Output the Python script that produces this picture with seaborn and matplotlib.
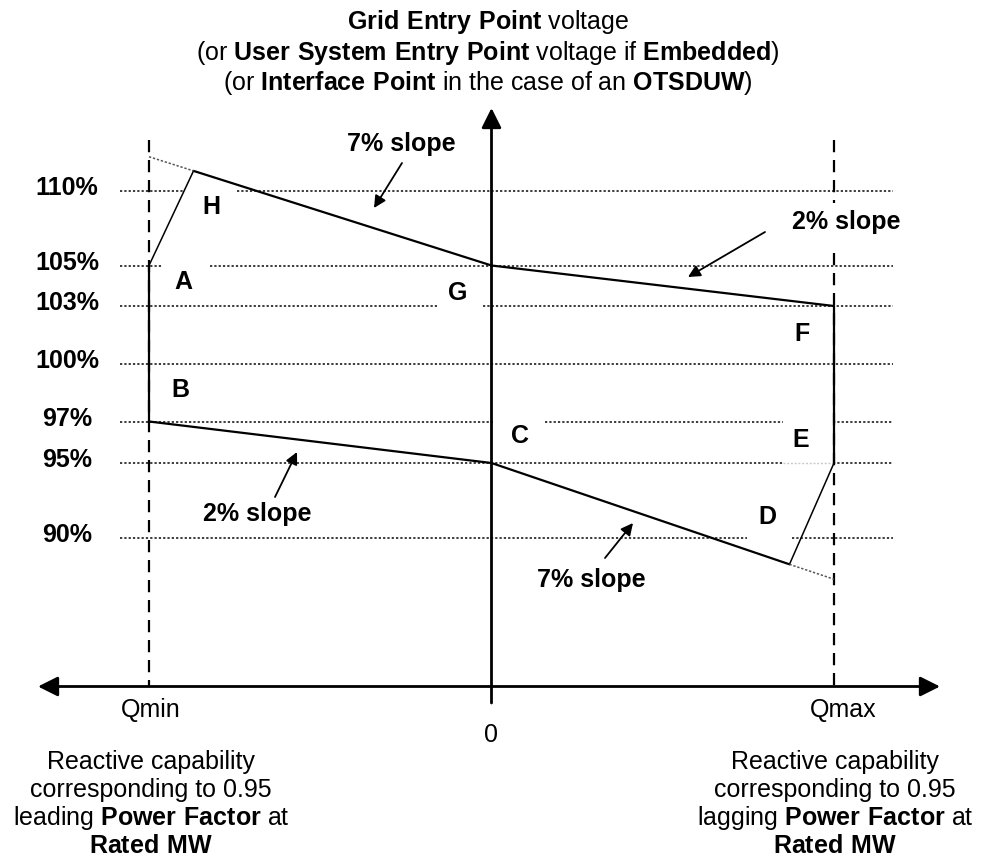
import numpy as np
import pandas as pd
import matplotlib.pyplot as plt
import seaborn as sns

W, H = 982, 861

# voltage levels marked on the diagram (%)
levels = [110, 105, 103, 100, 97, 95, 90]
level_labels = ["110%", "105%", "103%", "100%", "97%", "95%", "90%"]

# envelope corners: Q in per unit of Qmax, voltage in %
corner_names = ["A", "H", "G", "F", "E", "D", "C", "B"]
corner_q = [-1.0, -0.87, 0.0, 1.0, 1.0, 0.87, 0.0, -1.0]
corner_v = [105.0, 111.35, 105.0, 103.0, 95.0, 88.2, 95.0, 97.0]

# the two 7% slope lines continued out to Qmin / Qmax
slope_end_q = [-1.0, 1.0]
slope_end_v = [112.3, 87.2]

slope_texts = ["7% slope", "2% slope", "2% slope", "7% slope"]

# diagram is not to scale: drawn height (px from top) of each level
level_px = [191, 265.5, 306, 364, 421.5, 463, 537.5]
px_per_pct = 14.9

sns.set_theme(style="white")
plt.rcParams["font.family"] = ["Liberation Sans", "DejaVu Sans"]
plt.rcParams["text.color"] = "black"
plt.rcParams["mathtext.fontset"] = "custom"
plt.rcParams["mathtext.rm"] = "Liberation Sans"
plt.rcParams["mathtext.bf"] = "Liberation Sans:bold"

v_anchor = [0] + levels[::-1] + [200]
p_anchor = ([-(level_px[-1] + 90 * px_per_pct)] + [-p for p in level_px[::-1]]
            + [-(level_px[0] - 90 * px_per_pct)])


def fwd(v):
    return np.interp(v, v_anchor, p_anchor)


def inv(p):
    return np.interp(p, p_anchor, v_anchor)


fig = plt.figure(figsize=(W / 100, H / 100), dpi=100)
ax = fig.add_axes([0, 0, 1, 1])
ax.set_yscale("function", functions=(fwd, inv))
q0, q_scale = 491.5, 342.5
ax.set_xlim(-q0 / q_scale, (W - q0) / q_scale)
ax.set_ylim(float(inv(-H)), float(inv(0)))
ax.axis("off")


def to_data(x, y):
    return ax.transData.inverted().transform((x, H - y))


def qx(x):
    return to_data(x, 0)[0]


def vy(y):
    return to_data(0, y)[1]


FS = 18
DOT = dict(color="#111111", lw=1.15, linestyle=(0, (1.4, 1.3)))

# dotted level lines, broken where the labels sit
grid_gaps = {110: [(183, 237)], 105: [(163, 210)], 103: [(437, 483)],
             97: [(493, 545), (783, 833)], 95: [(783, 833)], 90: [(747, 792)]}
for lv in levels:
    edges = [120]
    for a, b in grid_gaps.get(lv, []):
        edges += [a, b]
    edges.append(893)
    for a, b in zip(edges[::2], edges[1::2]):
        ax.plot([qx(a), qx(b)], [lv, lv], **DOT)
ax.plot([qx(783), qx(833)], [95, 95], color="#c8c8c8", lw=1.0, linestyle=(0, (1.4, 1.3)))

# Qmin / Qmax dashed verticals
q_axis_v = vy(686.5)
dash = dict(color="black", lw=1.6, linestyle=(0, (5.5, 3.5)))
ax.plot([-1, -1], [vy(140), q_axis_v], **dash)
ax.plot([1, 1], [vy(140), vy(203)], **dash)
ax.plot([1, 1], [vy(253), q_axis_v], **dash)

# envelope
pts = dict(zip(corner_names, zip(corner_q, corner_v)))
rows = []
for seg, names in enumerate([["H", "G", "F", "E"], ["D", "C", "B", "A"]]):
    for n in names:
        rows.append({"seg": seg, "q": pts[n][0], "v": pts[n][1]})
main = pd.DataFrame(rows)
rows = []
for seg, names in enumerate([["A", "H"], ["E", "D"]]):
    for n in names:
        rows.append({"seg": seg, "q": pts[n][0], "v": pts[n][1]})
trans = pd.DataFrame(rows)
ext = pd.DataFrame({"seg": [0, 0, 1, 1],
                    "q": [slope_end_q[0], pts["H"][0], pts["D"][0], slope_end_q[1]],
                    "v": [slope_end_v[0], pts["H"][1], pts["D"][1], slope_end_v[1]]})

sns.lineplot(data=main, x="q", y="v", units="seg", estimator=None, sort=False,
             color="black", lw=1.6, ax=ax)
sns.lineplot(data=trans, x="q", y="v", units="seg", estimator=None, sort=False,
             color="black", lw=1.1, ax=ax)
sns.lineplot(data=ext, x="q", y="v", units="seg", estimator=None, sort=False,
             color="#555555", lw=1.1, linestyle=(0, (1.5, 1.2)), ax=ax)
ax.set_xlim(-q0 / q_scale, (W - q0) / q_scale)
ax.set_ylim(float(inv(-H)), float(inv(0)))
ax.axis("off")

# axes with arrows
ax.annotate("", xy=(0, vy(108)), xytext=(0, vy(703)),
            arrowprops=dict(arrowstyle="-|>", lw=2, color="black",
                            mutation_scale=30, shrinkA=0, shrinkB=0))
ax.annotate("", xy=(qx(38), q_axis_v), xytext=(qx(940), q_axis_v),
            arrowprops=dict(arrowstyle="<|-|>", lw=2, color="black",
                            mutation_scale=30, shrinkA=0, shrinkB=0))


def put(x, y, s, **kw):
    fig.text(x / W, 1 - y / H, s, ha="center", va="center", fontsize=FS,
             color="black", **kw)


for lab, py in zip(level_labels, level_px):
    put(67, py - 3, lab, fontweight="bold")

letter_px = {"H": (211, 207), "A": (183, 282), "G": (458, 293), "B": (180, 390),
             "C": (520, 436), "F": (802, 334), "E": (801, 440), "D": (767, 517)}
for n in corner_names:
    put(*letter_px[n], n, fontweight="bold")

slope_txt_px = [(401, 144), (846, 222), (257, 514), (591, 580)]
slope_arrow_px = [((402, 163), (374, 208)), ((765, 232), (688, 277)),
                  ((275, 497), (297, 452)), ((605, 558), (633, 523))]
for s, (tx, ty), (tail, tip) in zip(slope_texts, slope_txt_px, slope_arrow_px):
    put(tx, ty, s, fontweight="bold")
    ax.annotate("", xy=(tip[0] / W, 1 - tip[1] / H), xycoords="figure fraction",
                xytext=(tail[0] / W, 1 - tail[1] / H), textcoords="figure fraction",
                arrowprops=dict(arrowstyle="-|>", lw=1.3, color="black",
                                mutation_scale=18, shrinkA=0, shrinkB=0))

# titles and axis captions
title_lines = [r"$\mathbf{Grid\ Entry\ Point}$ voltage",
               r"(or $\mathbf{User\ System\ Entry\ Point}$ voltage if $\mathbf{Embedded}$)",
               r"(or $\mathbf{Interface\ Point}$ in the case of an $\mathbf{OTSDUW}$)"]
for line, py in zip(title_lines, [22, 53, 83]):
    put(488, py, line)

put(151, 710, "Qmin")
put(491, 735, "0")
put(843, 710, "Qmax")

for cx, word in [(151, "leading"), (835, "lagging")]:
    lines = ["Reactive capability", "corresponding to 0.95",
             word + r" $\mathbf{Power\ Factor}$ at", r"$\mathbf{Rated\ MW}$"]
    for line, py in zip(lines, [762, 790, 818, 846]):
        put(cx, py, line)

fig.savefig("out.png", dpi=100)
